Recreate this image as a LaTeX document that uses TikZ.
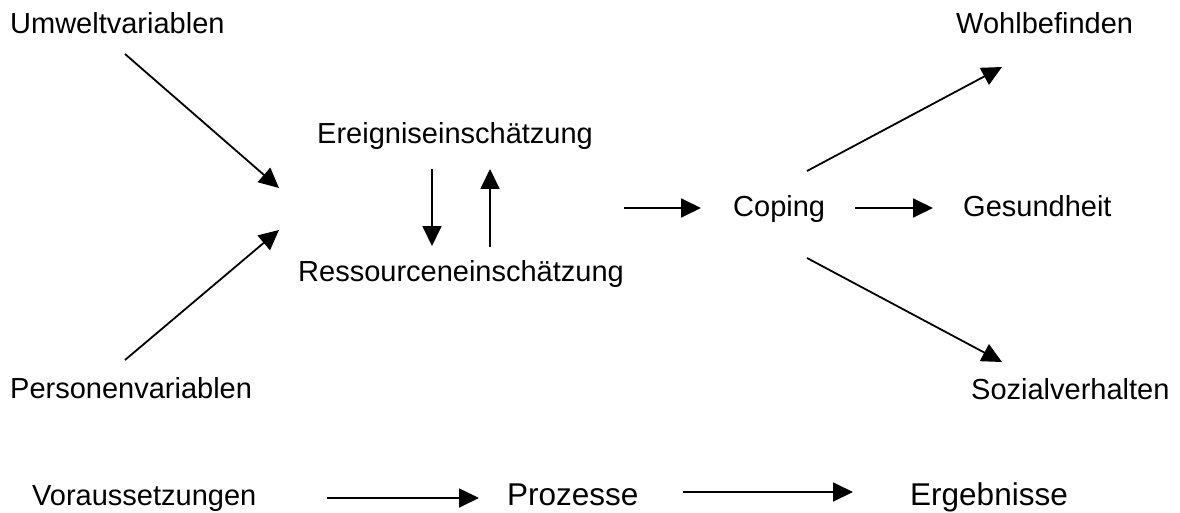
\documentclass[tikz,border=0pt]{standalone}
\usepackage{fontspec}
\setmainfont{Liberation Sans}
\usetikzlibrary{arrows.meta}
\begin{document}
\begin{tikzpicture}[x=1pt,y=-1pt,
  lbl/.style={anchor=base west,inner sep=0pt,font=\fontsize{29}{34}\selectfont},
  biglbl/.style={anchor=base west,inner sep=0pt,font=\fontsize{31.5}{36}\selectfont},
  arr/.style={line width=1.8pt,-{Triangle[length=20pt,width=19pt]}}]
\useasboundingbox (0,0) rectangle (1180,513);
% labels
\node[lbl] (umw) at (10,34) {Umweltvariablen};
\node[lbl] (pers) at (10,398) {Personenvariablen};
\node[lbl] (ereig) at (317,144) {Ereigniseinschätzung};
\node[lbl] (ress) at (298,281) {Ressourceneinschätzung};
\node[lbl] (cop) at (733,216) {Coping};
\node[lbl] (ges) at (963,216) {Gesundheit};
\node[lbl] (wohl) at (956,34) {Wohlbefinden};
\node[lbl] (soz) at (971,399) {Sozialverhalten};
\node[lbl] (vor) at (32,505) {Voraussetzungen};
\node[biglbl] (proz) at (507,505) {Prozesse};
\node[biglbl] (erg) at (910,505) {Ergebnisse};
% endpoints
\coordinate (a1s) at (125,54);  \coordinate (a1e) at (279,188);
\coordinate (a2s) at (125,360); \coordinate (a2e) at (279,230);
\coordinate (a3s) at (432,169); \coordinate (a3e) at (432,246);
\coordinate (a4s) at (490,247); \coordinate (a4e) at (490,169);
\coordinate (a5s) at (624,208); \coordinate (a5e) at (701,208);
\coordinate (a6s) at (855,208); \coordinate (a6e) at (933,208);
\coordinate (a7s) at (807,171); \coordinate (a7e) at (1002,67);
\coordinate (a8s) at (807,258); \coordinate (a8e) at (1002,362);
\coordinate (b1s) at (327,498); \coordinate (b1e) at (479,498);
\coordinate (b2s) at (683,492); \coordinate (b2e) at (853,492);
% arrows
\draw[arr] (a1s) -- (a1e);
\draw[arr] (a2s) -- (a2e);
\draw[arr] (a3s) -- (a3e);
\draw[arr] (a4s) -- (a4e);
\draw[arr] (a5s) -- (a5e);
\draw[arr] (a6s) -- (a6e);
\draw[arr] (a7s) -- (a7e);
\draw[arr] (a8s) -- (a8e);
\draw[arr] (b1s) -- (b1e);
\draw[arr] (b2s) -- (b2e);
\end{tikzpicture}
\end{document}
